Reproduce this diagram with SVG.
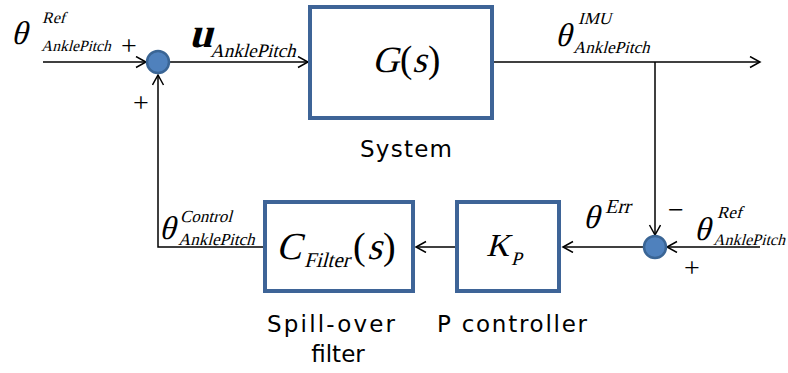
<svg xmlns="http://www.w3.org/2000/svg" width="788" height="373" viewBox="0 0 788 373">
<style>
.box{fill:#fff;stroke:#3e6497;stroke-width:4}
.sum{fill:#4f81bd;stroke:#3a6595;stroke-width:2.5}
.ln{fill:none;stroke:#000;stroke-width:1.5}
.r{font-family:"Liberation Serif","Times New Roman",serif;fill:#000}
.s{font-family:"DejaVu Sans","Liberation Sans",sans-serif;fill:#000;font-size:23px}
</style>
<defs>
<marker id="arr" markerWidth="14" markerHeight="14" refX="11" refY="6" orient="auto" markerUnits="userSpaceOnUse">
<path d="M1,0.5 L11,6 L1,11.5" fill="none" stroke="#000" stroke-width="1.5"/>
</marker>
</defs>
<g id="connectors">
<line class="ln" x1="43" y1="62" x2="146" y2="62" marker-end="url(#arr)"/>
<line class="ln" x1="170" y1="62" x2="308" y2="62" marker-end="url(#arr)"/>
<line class="ln" x1="494" y1="62" x2="760" y2="62" marker-end="url(#arr)"/>
<line class="ln" x1="655" y1="62" x2="655" y2="235" marker-end="url(#arr)"/>
<line class="ln" x1="760" y1="247" x2="667" y2="247" marker-end="url(#arr)"/>
<line class="ln" x1="643" y1="247" x2="563" y2="247" marker-end="url(#arr)"/>
<line class="ln" x1="455" y1="247" x2="416" y2="247" marker-end="url(#arr)"/>
<polyline class="ln" points="263,247 158,247 158,75" marker-end="url(#arr)"/>
</g>
<g id="sum1"><circle class="sum" cx="158" cy="62" r="11"/></g>
<g id="sum2"><circle class="sum" cx="655" cy="247" r="11"/></g>
<g id="system">
<rect class="box" x="310" y="7" width="182" height="111"/>
<text class="r" transform="translate(372,72) skewX(-15)" font-size="37">G</text>
<text class="r" x="400" y="72" font-size="37">(</text>
<text class="r" transform="translate(412,72) skewX(-15)" font-size="37">s</text>
<text class="r" x="428" y="72" font-size="37">)</text>
<text class="s" x="406" y="157" text-anchor="middle" textLength="92">System</text>
</g>
<g id="filter">
<rect class="box" x="265" y="202" width="148" height="89"/>
<text class="r" transform="translate(276,259) skewX(-15)" font-size="38">C</text>
<text class="r" transform="translate(304,267) skewX(-15)" font-size="21">Filter</text>
<text class="r" x="353" y="259" font-size="38">(</text>
<text class="r" transform="translate(367,259) skewX(-15)" font-size="38">s</text>
<text class="r" x="383" y="259" font-size="38">)</text>
<text class="s" x="331" y="332" text-anchor="middle" textLength="128">Spill-over</text>
<text class="s" x="338" y="362" text-anchor="middle">filter</text>
</g>
<g id="pcontroller">
<rect class="box" x="457" y="202" width="102" height="89"/>
<text class="r" transform="translate(486,256) skewX(-15)" font-size="32">K</text>
<text class="r" transform="translate(511,265) skewX(-15)" font-size="19">P</text>
<text class="s" x="512" y="332" text-anchor="middle" textLength="150">P controller</text>
</g>
<g id="labels">
<text class="r" transform="translate(11,44) skewX(-15)" font-size="33">θ</text>
<text class="r" transform="translate(42,23) skewX(-15)" font-size="16">Ref</text>
<text class="r" transform="translate(41,51) skewX(-15)" font-size="15.5">AnklePitch</text>
<text class="r" x="121" y="55" font-size="28">+</text>
<text class="r" x="133" y="112" font-size="28">+</text>
<text class="r" transform="translate(189,47) skewX(-15)" font-size="42" font-weight="bold">u</text>
<text class="r" transform="translate(210,57) skewX(-15)" font-size="19">AnklePitch</text>
<text class="r" transform="translate(555,46) skewX(-15)" font-size="33">θ</text>
<text class="r" transform="translate(578,24) skewX(-15)" font-size="17">IMU</text>
<text class="r" transform="translate(573,53) skewX(-15)" font-size="17">AnklePitch</text>
<text class="r" transform="translate(159,239) skewX(-15)" font-size="33">θ</text>
<text class="r" transform="translate(180,222) skewX(-15)" font-size="17">Control</text>
<text class="r" transform="translate(178,245) skewX(-15)" font-size="17">AnklePitch</text>
<text class="r" transform="translate(583,228) skewX(-15)" font-size="33">θ</text>
<text class="r" transform="translate(605,213) skewX(-15)" font-size="20">Err</text>
<text class="r" x="668" y="219" font-size="28">−</text>
<text class="r" transform="translate(694,240) skewX(-15)" font-size="33">θ</text>
<text class="r" transform="translate(717,218) skewX(-15)" font-size="17">Ref</text>
<text class="r" transform="translate(713,245) skewX(-15)" font-size="16">AnklePitch</text>
<text class="r" x="684" y="277" font-size="28">+</text>
</g>
</svg>
